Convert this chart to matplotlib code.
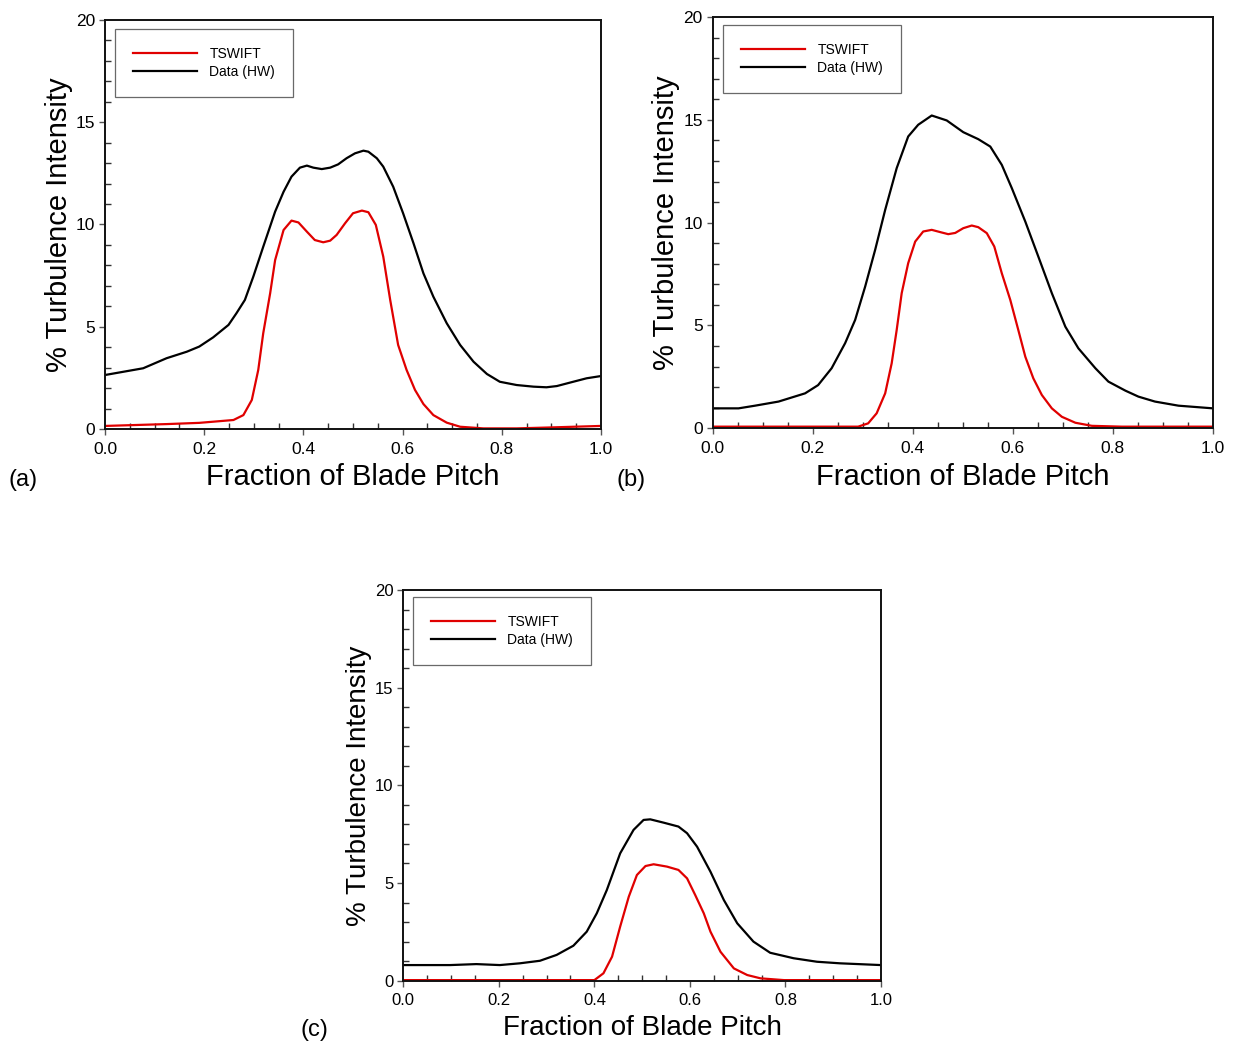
import matplotlib
matplotlib.use("Agg")
import matplotlib.pyplot as plt
from matplotlib.ticker import MultipleLocator

plt.rcParams['font.family'] = ['Liberation Sans', 'DejaVu Sans']

# ---------------- data ----------------
# Panel (a)
a_black_x = [0.0, 0.077, 0.124, 0.165, 0.19, 0.218, 0.249, 0.265, 0.282, 0.299, 0.319, 0.343, 0.36,
             0.376, 0.393, 0.407, 0.42, 0.437, 0.454, 0.47, 0.487, 0.504, 0.521, 0.531, 0.548, 0.561,
             0.581, 0.601, 0.622, 0.642, 0.662, 0.689, 0.716, 0.743, 0.77, 0.796, 0.83, 0.864, 0.89,
             0.911, 0.944, 0.971, 1.0]
a_black_y = [2.64, 2.97, 3.46, 3.78, 4.03, 4.48, 5.09, 5.66, 6.31, 7.45, 8.91, 10.63, 11.6,
             12.34, 12.78, 12.88, 12.78, 12.71, 12.78, 12.94, 13.24, 13.48, 13.61, 13.56, 13.24, 12.83,
             11.85, 10.55, 9.08, 7.61, 6.47, 5.17, 4.11, 3.29, 2.69, 2.31, 2.15, 2.07, 2.04,
             2.1, 2.31, 2.48, 2.59]
a_red_x = [0.0, 0.124, 0.19, 0.259, 0.279, 0.296, 0.309, 0.319, 0.333, 0.343, 0.36, 0.376, 0.39,
           0.407, 0.423, 0.44, 0.454, 0.467, 0.484, 0.5, 0.518, 0.531, 0.546, 0.561, 0.575, 0.591,
           0.608, 0.625, 0.642, 0.662, 0.689, 0.716, 0.763, 0.83, 0.89, 1.0]
a_red_y = [0.15, 0.24, 0.30, 0.44, 0.68, 1.42, 2.89, 4.68, 6.64, 8.26, 9.73, 10.19, 10.1,
           9.65, 9.24, 9.13, 9.21, 9.49, 10.06, 10.55, 10.68, 10.6, 9.98, 8.43, 6.31, 4.11,
           2.89, 1.91, 1.22, 0.68, 0.31, 0.11, 0.03, 0.03, 0.07, 0.15]

# Panel (b)
b_black_x = [0.0, 0.052, 0.085, 0.132, 0.185, 0.211, 0.238, 0.265, 0.285, 0.305, 0.325, 0.345, 0.368,
             0.391, 0.411, 0.438, 0.468, 0.501, 0.531, 0.555, 0.578, 0.598, 0.625, 0.651, 0.678,
             0.705, 0.731, 0.765, 0.791, 0.825, 0.851, 0.884, 0.931, 1.0]
b_black_y = [0.97, 0.97, 1.1, 1.3, 1.7, 2.1, 2.92, 4.14, 5.27, 6.89, 8.68, 10.62, 12.65,
             14.19, 14.76, 15.21, 14.97, 14.4, 14.06, 13.7, 12.81, 11.68, 10.05, 8.35, 6.57,
             4.94, 3.89, 2.92, 2.27, 1.83, 1.54, 1.3, 1.1, 0.97]
b_red_x = [0.0, 0.291, 0.311, 0.328, 0.345, 0.358, 0.368, 0.378, 0.391, 0.405, 0.421, 0.438, 0.455,
           0.471, 0.485, 0.501, 0.518, 0.531, 0.548, 0.563, 0.578, 0.595, 0.611, 0.625, 0.641,
           0.658, 0.678, 0.698, 0.725, 0.758, 0.818, 1.0]
b_red_y = [0.08, 0.08, 0.24, 0.73, 1.7, 3.16, 4.78, 6.57, 8.03, 9.08, 9.57, 9.65, 9.54,
           9.44, 9.5, 9.73, 9.86, 9.78, 9.49, 8.84, 7.54, 6.24, 4.78, 3.48, 2.43,
           1.62, 0.97, 0.56, 0.27, 0.12, 0.08, 0.08]

# Panel (c)
c_black_x = [0.0, 0.098, 0.153, 0.202, 0.244, 0.286, 0.321, 0.356, 0.384, 0.405, 0.426, 0.454, 0.482,
             0.503, 0.517, 0.545, 0.576, 0.594, 0.615, 0.643, 0.671, 0.699, 0.733, 0.768, 0.817,
             0.866, 0.914, 1.0]
c_black_y = [0.8, 0.8, 0.85, 0.8, 0.89, 1.02, 1.32, 1.79, 2.51, 3.45, 4.64, 6.52, 7.72,
             8.23, 8.26, 8.09, 7.89, 7.55, 6.86, 5.58, 4.13, 2.94, 2.0, 1.43, 1.15,
             0.97, 0.89, 0.8]
c_red_x = [0.0, 0.4, 0.419, 0.437, 0.454, 0.472, 0.489, 0.507, 0.524, 0.552, 0.576, 0.594, 0.611,
           0.629, 0.643, 0.664, 0.692, 0.72, 0.748, 0.797, 1.0]
c_red_y = [0.03, 0.03, 0.38, 1.23, 2.77, 4.3, 5.41, 5.87, 5.96, 5.84, 5.67, 5.24, 4.39,
           3.45, 2.51, 1.48, 0.63, 0.29, 0.12, 0.03, 0.03]

legend_labels = ["TSWIFT", "Data (HW)"]
panel_labels = ["(a)", "(b)", "(c)"]
xlabel = "Fraction of Blade Pitch"
ylabel = "% Turbulence Intensity"

# ---------------- figure ----------------
W, H = 1233, 1044
fig = plt.figure(figsize=(W / 100, H / 100), dpi=100)
fig.patch.set_facecolor('white')

def px_axes(x0, x1, ytop, ybot):
    return fig.add_axes([x0 / W, (H - ybot) / H, (x1 - x0) / W, (ybot - ytop) / H])

ax_a = px_axes(105, 601, 20, 429)
ax_b = px_axes(712.5, 1213, 17, 428.3)
ax_c = px_axes(403.3, 881, 590, 980.7)

panels = [
    (ax_a, a_red_x, a_red_y, a_black_x, a_black_y, 21, 12.5, (115, 29, 290, 95)),
    (ax_b, b_red_x, b_red_y, b_black_x, b_black_y, 21, 12.5, (723, 25, 899, 91)),
    (ax_c, c_red_x, c_red_y, c_black_x, c_black_y, 20, 12, (413, 597, 582, 660)),
]

for ax, rx, ry, kx, ky, lab_fs, tick_fs, legbox in panels:
    l1, = ax.plot(rx, ry, color='#e00000', lw=1.6)
    l2, = ax.plot(kx, ky, color='black', lw=1.6)
    ax.set_xlim(0, 1)
    ax.set_ylim(0, 20)
    ax.xaxis.set_major_locator(MultipleLocator(0.2))
    ax.xaxis.set_minor_locator(MultipleLocator(0.05))
    ax.yaxis.set_major_locator(MultipleLocator(5))
    ax.yaxis.set_minor_locator(MultipleLocator(1))
    ax.xaxis.set_major_formatter(matplotlib.ticker.FormatStrFormatter('%.1f'))
    ax.tick_params(which='major', direction='out', length=4, width=1, color='#555555',
                   labelsize=tick_fs, pad=3)
    ax.tick_params(axis='x', which='major', pad=5)
    ax.tick_params(which='minor', direction='in', length=4, width=1, color='#333333')
    for s in ax.spines.values():
        s.set_linewidth(1.4)
        s.set_color('#111111')
    ax.set_xlabel(xlabel, fontsize=lab_fs, labelpad=5)
    ax.set_ylabel(ylabel, fontsize=lab_fs, labelpad=2)
    # legend box positioned in pixels
    bx0, by0, bx1, by1 = legbox
    leg = ax.legend([l1, l2], legend_labels, loc='upper left',
                    bbox_to_anchor=(bx0 / W, (H - by0) / H),
                    bbox_transform=fig.transFigure,
                    fontsize=10, frameon=True, fancybox=False, borderpad=1.3,
                    handlelength=4.6, handletextpad=0.9, labelspacing=0.25,
                    borderaxespad=0)
    leg.get_frame().set_edgecolor('#444444')
    leg.get_frame().set_linewidth(0.9)

fig.text(8 / W, (H - 480) / H, panel_labels[0], fontsize=17, va='center', ha='left')
fig.text(617 / W, (H - 480) / H, panel_labels[1], fontsize=17, va='center', ha='left')
fig.text(300 / W, (H - 1030) / H, panel_labels[2], fontsize=17, va='center', ha='left')

fig.savefig("out.png", dpi=100, facecolor='white')
